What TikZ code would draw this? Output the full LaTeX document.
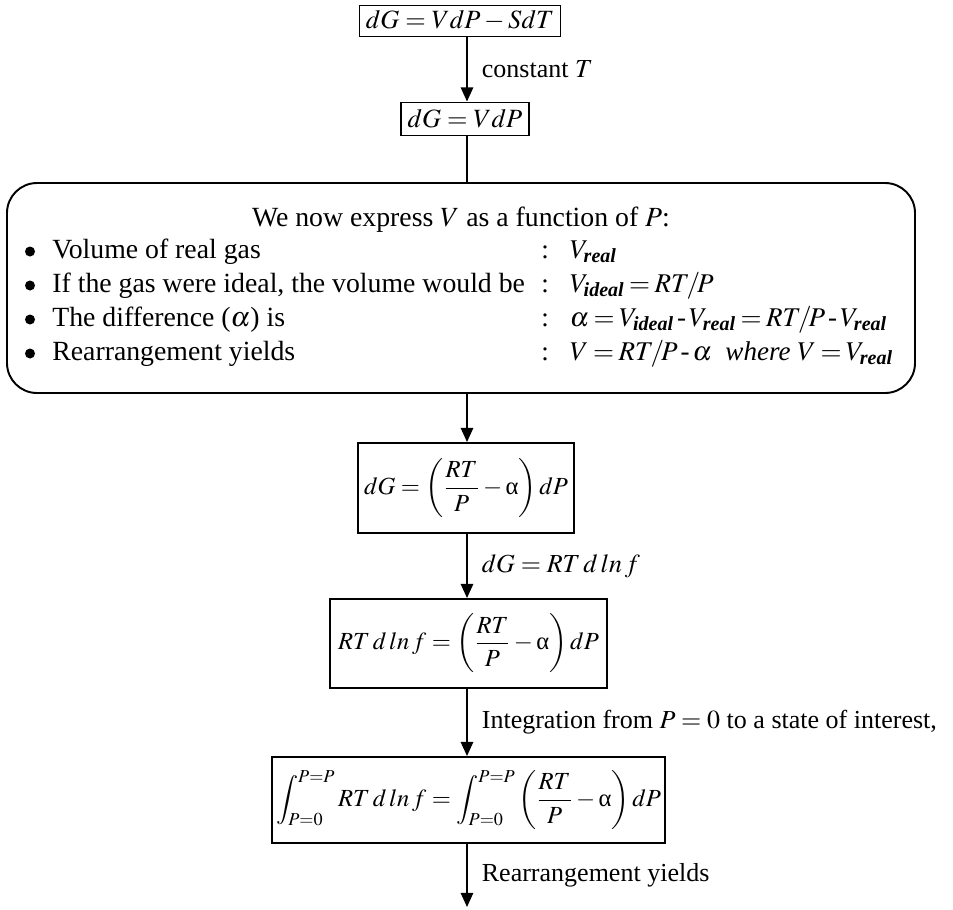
\documentclass[tikz,border=0pt]{standalone}
\usepackage{mathptmx}
\usepackage{amsmath}
\usepackage{fontspec}
\setmainfont{Liberation Serif}
\usetikzlibrary{arrows.meta, calc}

\newcommand{\gsub}[1]{\text{\bfseries\itshape #1}}
\newcommand{\ualpha}{\text{\upshape α}}
\newcommand{\rtp}{RT\!/\!P}
\newcommand{\tightmath}{\thickmuskip=3mu plus 1mu\medmuskip=2mu}

\begin{document}
\begin{tikzpicture}[
    >={Triangle[length=8pt, width=7pt]},
    eq box/.style={draw, line width=1.1pt, inner sep=0pt,
        font=\fontsize{14pt}{18pt}\selectfont},
    top box/.style={eq box, font=\fontsize{15pt}{18pt}\selectfont},
    panel box/.style={draw, line width=1.1pt, rounded corners=0.6cm,
        inner sep=0pt},
    flow arrow/.style={draw, line width=1pt, ->},
    flow line/.style={draw, line width=1pt},
    cond label/.style={anchor=west, xshift=0.28cm, inner sep=0pt,
        font=\fontsize{14.8pt}{18pt}\selectfont},
    panel text/.style={anchor=base west, inner sep=0pt,
        font=\fontsize{15.8pt}{19pt}\selectfont},
    panel value/.style={anchor=base west, inner sep=0pt,
        font=\fontsize{15.4pt}{19pt}\selectfont\tightmath},
    panel title/.style={anchor=base, inner sep=0pt,
        font=\fontsize{15.8pt}{19pt}\selectfont},
    dot/.style={circle, fill, inner sep=0pt, minimum size=0.2cm},
]

% ══════════════════════════════════════════════════════════════════════
%  DIMENSIONS — one vertical axis, panel rows
% ══════════════════════════════════════════════════════════════════════
\useasboundingbox (0,0) rectangle (19.06,-18.18);
\def\ax{9.34}
\def\rowA{-5.16}  \def\rowB{-5.84}  \def\rowC{-6.52}  \def\rowD{-7.20}
\def\dotX{0.60}   \def\txtX{1.04}   \def\valX{10.82}

\coordinate (axis) at (\ax,0);
\coordinate (tail) at (\ax,-18.14);

% ── Gibbs energy at constant T ────────────────────────────────────────
\node[top box, minimum width=4.02cm, minimum height=0.62cm] (gibbs)
    at (9.20,-0.42) {$dG = VdP - SdT$};
\node[top box, minimum width=2.56cm, minimum height=0.66cm] (isoT)
    at (9.30,-2.38) {$dG = VdP$};

% ── Panel: V as a function of P ───────────────────────────────────────
\node[panel box, minimum width=18.16cm, minimum height=4.20cm] (panel)
    at (9.22,-5.76) {};
\node[panel title] (ptitle) at (9.22,-4.52)
    {We now express $V$ as a function of $P$:};

\node[dot] (dotA) at (\dotX,\rowA+0.13) {};
\node[dot] (dotB) at (\dotX,\rowB+0.13) {};
\node[dot] (dotC) at (\dotX,\rowC+0.13) {};
\node[dot] (dotD) at (\dotX,\rowD+0.13) {};

\node[panel text] (itemA) at (\txtX,\rowA) {Volume of real gas};
\node[panel value] (valA) at (\valX,\rowA)
    {:\hspace{0.42cm}$V_{\gsub{real}}$};
\node[panel text] (itemB) at (\txtX,\rowB)
    {If the gas were ideal, the volume would be};
\node[panel value] (valB) at (\valX,\rowB)
    {:\hspace{0.42cm}$V_{\gsub{ideal}} = \rtp$};
\node[panel text] (itemC) at (\txtX,\rowC) {The difference ($\alpha$) is};
\node[panel value] (valC) at (\valX,\rowC)
    {:\hspace{0.42cm}$\alpha = V_{\gsub{ideal}} \mathbin{\text{-}} V_{\gsub{real}}
     = \rtp \mathbin{\text{-}} V_{\gsub{real}}$};
\node[panel text] (itemD) at (\txtX,\rowD) {Rearrangement yields};
\node[panel value] (valD) at (\valX,\rowD)
    {:\hspace{0.42cm}$V = \rtp \mathbin{\text{-}} \alpha$\enspace
     \textit{where} $V = V_{\gsub{real}}$};

% ── Fugacity steps ────────────────────────────────────────────────────
\node[eq box, minimum width=4.32cm, minimum height=1.80cm] (balance)
    at (9.32,-9.76)
    {$\displaystyle dG = \left(\frac{RT}{P} - \ualpha\right) dP$};
\node[eq box, minimum width=5.54cm, minimum height=1.78cm] (fugacity)
    at (9.37,-12.87)
    {$\displaystyle RT\,d\,ln\,f = \left(\frac{RT}{P} - \ualpha\right) dP$};
\node[eq box, minimum width=7.86cm, minimum height=1.72cm] (integral)
    at (9.37,-16.00)
    {$\displaystyle \int_{P=0}^{P=P} RT\,d\,ln\,f
     = \int_{P=0}^{P=P} \left(\frac{RT}{P} - \ualpha\right) dP$};

% ── Flow arrows ───────────────────────────────────────────────────────
\draw[flow arrow] (gibbs.south -| axis) -- (isoT.north -| axis)
    node[cond label, midway] (condT) {constant $T$};
\draw[flow line] (isoT.south -| axis) -- (panel.north -| axis);
\draw[flow arrow] (panel.south -| axis) -- (balance.north -| axis);
\draw[flow arrow] (balance.south -| axis) -- (fugacity.north -| axis)
    node[cond label, midway] (condF) {$dG = RT\,d\,ln\,f$};
\draw[flow arrow] (fugacity.south -| axis) -- (integral.north -| axis)
    node[cond label, midway] (condI)
    {Integration from $P = 0$ to a state of interest,};
\draw[flow arrow] (integral.south -| axis) -- (tail)
    node[cond label, midway] (condR) {Rearrangement yields};

\end{tikzpicture}
\end{document}
